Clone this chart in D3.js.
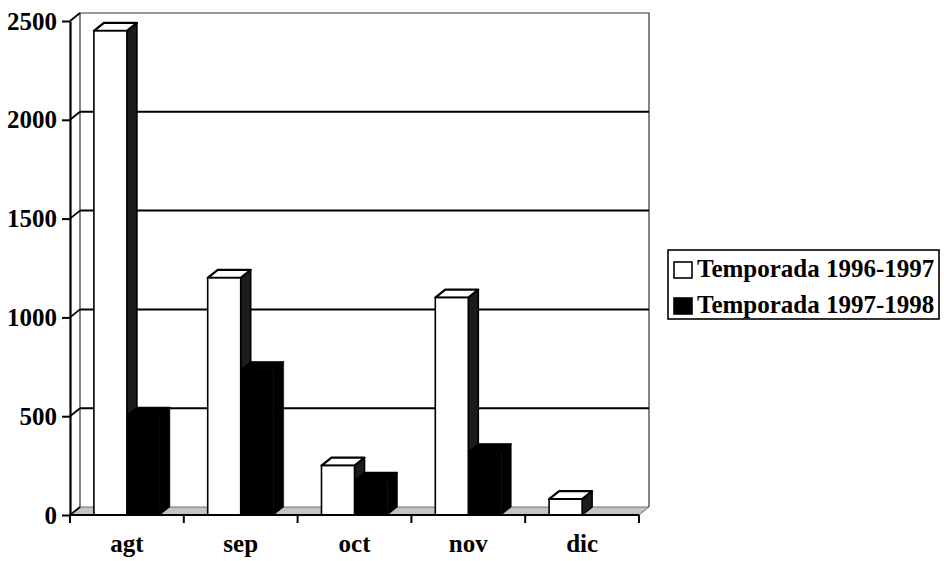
<!DOCTYPE html>
<html>
<head>
<meta charset="utf-8">
<script src="https://cdn.jsdelivr.net/npm/d3@7"></script>
<style>
  body { margin: 0; background: #fff; }
  svg text { font-family: "Liberation Serif", "Times New Roman", serif; font-weight: bold; }
</style>
</head>
<body>
<div id="container"></div>
<script>
const months = ['agt', 'sep', 'oct', 'nov', 'dic']
const series = ['Temporada 1996-1997', 'Temporada 1997-1998']
const season1 = [2450, 1200, 250, 1100, 80]
const season2 = [505, 735, 175, 320, 0]
const yTicks = [0, 500, 1000, 1500, 2000, 2500]

const config = {
    width: 944,
    height: 561,
    left: 70,
    right: 639,
    top: 21,
    bottom: 515,
    dx: 10,
    dy: -8,
    fontSize: 25,
}

const svg = d3.select('#container')
    .append('svg')
    .attr('width', config.width)
    .attr('height', config.height)

const yScale = d3.scaleLinear()
    .domain([0, 2500])
    .range([config.bottom, config.top])

const xScale = d3.scaleBand()
    .domain(months)
    .range([config.left, config.right])
    .paddingInner(0.42)
    .paddingOuter(0.21)

const seriesScale = d3.scaleBand()
    .domain(series)
    .range([0, xScale.bandwidth()])

const fills = {
    [series[0]]: {front: '#fff', side: '#1c1c1c', top: '#fff'},
    [series[1]]: {front: '#000', side: '#000', top: '#000'},
}

const dx = config.dx, dy = config.dy
const backLeft = config.left + dx
const backRight = config.right + dx

// floor
svg.append('polygon')
    .attr('points', [
        [config.left, config.bottom], [config.right, config.bottom],
        [backRight, config.bottom + dy], [backLeft, config.bottom + dy]
    ].join(' '))
    .attr('fill', '#c4c4c4')
    .attr('stroke', '#555')
    .attr('stroke-width', 0.8)

// back wall and side wall edges
svg.append('path')
    .attr('d', `M${backLeft},${config.bottom + dy} V${yScale(2500) + dy} H${backRight} V${config.bottom + dy}`)
    .attr('fill', 'none')
    .attr('stroke', '#333')
    .attr('stroke-width', 1.2)

// gridlines on the back wall
svg.append('g')
    .selectAll('line')
    .data(yTicks.filter(v => v > 0 && v < 2500))
    .join('line')
    .attr('x1', backLeft)
    .attr('x2', backRight)
    .attr('y1', d => yScale(d) + dy)
    .attr('y2', d => yScale(d) + dy)
    .attr('stroke', '#000')
    .attr('stroke-width', 2)

// gridlines on the side wall
svg.append('g')
    .selectAll('line')
    .data(yTicks)
    .join('line')
    .attr('x1', config.left)
    .attr('x2', backLeft)
    .attr('y1', d => yScale(d))
    .attr('y2', d => yScale(d) + dy)
    .attr('stroke', '#000')
    .attr('stroke-width', 1.8)

// bars
const bars = []
months.forEach((m, i) => {
    bars.push({month: m, key: series[0], value: season1[i]})
    bars.push({month: m, key: series[1], value: season2[i]})
})

const barGroup = svg.append('g')
    .selectAll('g')
    .data(bars.filter(d => d.value > 0))
    .join('g')

barGroup.each(function (d) {
    const g = d3.select(this)
    const x0 = xScale(d.month) + seriesScale(d.key)
    const x1 = x0 + seriesScale.bandwidth()
    const yt = yScale(d.value)
    const yb = config.bottom
    const f = fills[d.key]
    const stroke = d.key === series[0] ? 1.6 : 0.5

    g.append('polygon')
        .attr('points', [[x1, yt], [x1 + dx, yt + dy], [x1 + dx, yb + dy], [x1, yb]].join(' '))
        .attr('fill', f.side)
        .attr('stroke', '#000')
        .attr('stroke-width', stroke)
        .attr('stroke-linejoin', 'round')

    g.append('polygon')
        .attr('points', [[x0, yt], [x1, yt], [x1 + dx, yt + dy], [x0 + dx, yt + dy]].join(' '))
        .attr('fill', f.top)
        .attr('stroke', '#000')
        .attr('stroke-width', stroke + 0.6)
        .attr('stroke-linejoin', 'round')

    g.append('rect')
        .attr('x', x0)
        .attr('y', yt)
        .attr('width', x1 - x0)
        .attr('height', yb - yt)
        .attr('fill', f.front)
        .attr('stroke', '#000')
        .attr('stroke-width', stroke)
})

// y axis
const yAxis = svg.append('g')
    .attr('class', 'y-axis')
    .attr('transform', `translate(${config.left},0)`)
    .call(d3.axisLeft(yScale)
        .tickValues(yTicks)
        .tickSize(8)
        .tickPadding(5)
        .tickSizeOuter(0)
        .tickFormat(d3.format('d'))
    )

yAxis.select('.domain')
    .attr('stroke', '#000')
    .attr('stroke-width', 2.2)

yAxis.selectAll('.tick line')
    .attr('stroke', '#000')
    .attr('stroke-width', 2)

yAxis.selectAll('.tick text')
    .attr('fill', '#000')
    .style('font-size', config.fontSize + 'px')
    .style('font-family', '"Liberation Serif", "Times New Roman", serif')
    .style('font-weight', 'bold')

// x axis: front floor line, ticks at category boundaries, labels centred
svg.append('line')
    .attr('x1', config.left)
    .attr('x2', config.right)
    .attr('y1', config.bottom)
    .attr('y2', config.bottom)
    .attr('stroke', '#000')
    .attr('stroke-width', 2.2)

const boundaries = months.map((m, i) => config.left + i * xScale.step()).concat([config.right])

svg.append('g')
    .selectAll('line')
    .data(boundaries)
    .join('line')
    .attr('x1', d => d)
    .attr('x2', d => d)
    .attr('y1', config.bottom)
    .attr('y2', config.bottom + 8)
    .attr('stroke', '#000')
    .attr('stroke-width', 2)

const xAxis = svg.append('g')
    .attr('class', 'x-axis')
    .attr('transform', `translate(0,${config.bottom})`)
    .call(d3.axisBottom(xScale).tickSize(0).tickPadding(19))

xAxis.select('.domain').remove()
xAxis.selectAll('.tick text')
    .attr('fill', '#000')
    .style('font-size', config.fontSize + 'px')
    .style('font-family', '"Liberation Serif", "Times New Roman", serif')
    .style('font-weight', 'bold')

// legend
const legend = svg.append('g')
    .attr('transform', 'translate(668,250)')

legend.append('rect')
    .attr('width', 271)
    .attr('height', 69)
    .attr('fill', '#fff')
    .attr('stroke', '#000')
    .attr('stroke-width', 1.6)

legend.selectAll('.swatch')
    .data(series)
    .join('rect')
    .attr('class', 'swatch')
    .attr('x', 6)
    .attr('y', (_, i) => 12 + i * 36)
    .attr('width', 18)
    .attr('height', 16)
    .attr('fill', d => fills[d].front)
    .attr('stroke', '#000')
    .attr('stroke-width', 1.6)

legend.selectAll('.label')
    .data(series)
    .join('text')
    .attr('class', 'label')
    .attr('x', 29)
    .attr('y', (_, i) => 27 + i * 36)
    .text(d => d)
    .style('font-size', config.fontSize + 'px')
    .style('fill', '#000')
</script>
</body>
</html>
